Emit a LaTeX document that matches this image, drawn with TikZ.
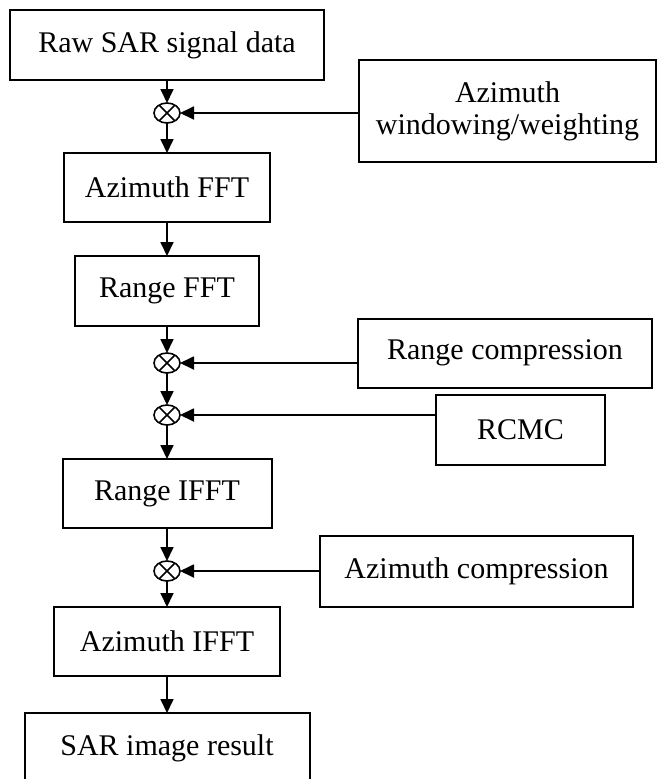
\documentclass[tikz,border=0pt]{standalone}
\usepackage{fontspec}
\setmainfont{Liberation Serif}
\usetikzlibrary{positioning, arrows.meta, shapes.geometric}
\tikzset{
  blk/.style={draw=black, line width=2pt, fill=white, text=black,
    font=\fontsize{30}{32}\selectfont, align=center,
    inner sep=4pt, outer sep=0pt, minimum height=70pt},
  mul/.style={ellipse, draw=black, line width=1.6pt, fill=white,
    minimum width=26pt, minimum height=20pt, inner sep=0pt, outer sep=0pt,
    path picture={\draw[line width=1.6pt]
      (path picture bounding box.center) ++(-12pt,-12pt) -- ++(24pt,24pt)
      (path picture bounding box.center) ++(-12pt,12pt) -- ++(24pt,-24pt);}},
  flow/.style={-{Triangle[length=14pt, width=13pt]}, line width=1.8pt, color=black},
}

\begin{document}
\begin{tikzpicture}
  \clip (0,0) rectangle (657pt,-779pt);
  % main chain
  \node[blk, minimum width=314pt] (raw) at (167pt,-45pt) {Raw SAR signal data};
  \node[mul, below=23pt of raw] (m1) {};
  \node[blk, minimum width=206pt, minimum height=69pt, below=30pt of m1] (azfft) {Azimuth FFT};
  \node[blk, minimum width=184pt, below=34pt of azfft] (rfft) {Range FFT};
  \node[mul, below=27pt of rfft] (m2) {};
  \node[mul, below=32pt of m2] (m3) {};
  \node[blk, minimum width=209pt, minimum height=69pt, below=34pt of m3] (rifft) {Range IFFT};
  \node[mul, below=33pt of rifft] (m4) {};
  \node[blk, minimum width=226pt, minimum height=69pt, below=26pt of m4] (azifft) {Azimuth IFFT};
  \node[blk, minimum width=285pt, below=37pt of azifft] (res) {SAR image result};
  % side inputs
  \node[blk, minimum width=297pt, minimum height=102pt, right=179pt of m1, yshift=2pt] (win) {Azimuth\\windowing/weighting};
  \node[blk, minimum width=294pt, minimum height=69pt, right=178pt of m2, yshift=10pt] (rcomp) {Range compression};
  \node[blk, minimum width=169pt, right=256pt of m3, yshift=-15pt] (rcmc) {RCMC};
  \node[blk, minimum width=313pt, minimum height=71pt, right=140pt of m4] (azcomp) {Azimuth compression};
  % connectors
  \draw[flow] (raw) -- (m1); \draw[flow] (m1) -- (azfft); \draw[flow] (azfft) -- (rfft);
  \draw[flow] (rfft) -- (m2); \draw[flow] (m2) -- (m3); \draw[flow] (m3) -- (rifft);
  \draw[flow] (rifft) -- (m4); \draw[flow] (m4) -- (azifft); \draw[flow] (azifft) -- (res);
  \draw[flow] (win.west |- m1) -- (m1);
  \draw[flow] (rcomp.west |- m2) -- (m2);
  \draw[flow] (rcmc.west |- m3) -- (m3);
  \draw[flow] (azcomp.west |- m4) -- (m4);
\end{tikzpicture}
\end{document}
